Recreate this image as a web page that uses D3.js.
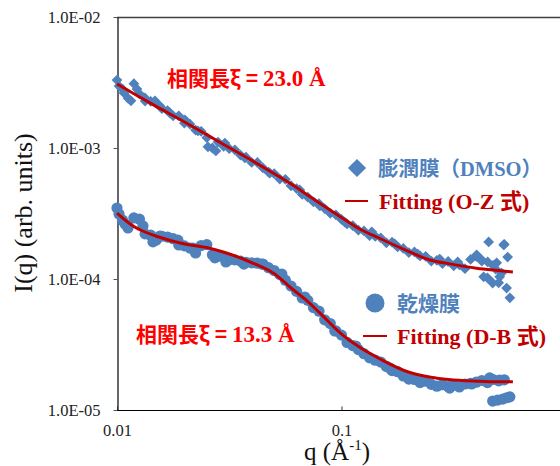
<!DOCTYPE html>
<html><head><meta charset="utf-8">
<script src="https://cdn.jsdelivr.net/npm/d3@7"></script>
<style>
html,body{margin:0;padding:0;background:#fff;}
svg{display:block;}
</style></head>
<body>
<svg id="chart" width="560" height="466"></svg>
<script>
// ---------------- DATA ----------------
// 膨潤膜 (DMSO) scattering data
const dmsoQ = [0.0100,0.01059,0.01122,0.01189,0.01259,0.01334,0.01413,0.01496,0.01585,0.01679,
0.01778,0.01884,0.01995,0.02113,0.02239,0.02371,0.02512,0.02661,0.02818,0.02985,
0.03162,0.03350,0.03548,0.03758,0.03981,0.04217,0.04467,0.04732,0.05012,0.05309,
0.05623,0.05957,0.06310,0.06683,0.07079,0.07499,0.07943,0.08414,0.08913,0.09441,
0.1000,0.1059,0.1122,0.1189,0.1259,0.1334,0.1413,0.1496,0.1585,0.1679,
0.1778,0.1884,0.1995,0.2113,0.2239,0.2371,0.2512,0.2661,0.2818,0.2985,
0.3162,0.3350,0.3548,0.3758,0.3981,0.4217,0.4467,0.4732,0.5012,0.5309,
0.5623,
0.01021,0.01074,0.01154,0.01227,0.01332,0.01476,0.01554,0.01722,0.02007,0.02294,
0.02541,0.02757,0.03024,0.03712,0.04797,0.06522,0.08006,0.1034,0.1364,0.1727,
0.2186,0.2738,0.3293,0.400,0.4298,0.4524,0.4478,0.4713,0.4860,0.5169,
0.5277,0.5439,0.5496,0.4211,0.4911,0.5064];
const dmsoI = [3.30e-3,2.81e-3,2.39e-3,3.10e-3,2.59e-3,2.28e-3,2.27e-3,2.19e-3,2.00e-3,1.93e-3,
1.76e-3,1.76e-3,1.55e-3,1.52e-3,1.37e-3,1.34e-3,1.20e-3,1.00e-3,1.11e-3,1.03e-3,
9.88e-4,9.69e-4,8.84e-4,8.51e-4,7.76e-4,7.75e-4,7.05e-4,6.54e-4,6.38e-4,5.80e-4,
5.77e-4,5.15e-4,4.90e-4,4.42e-4,4.21e-4,3.88e-4,3.76e-4,3.45e-4,3.17e-4,3.09e-4,
2.85e-4,2.63e-4,2.56e-4,2.36e-4,2.33e-4,2.14e-4,2.12e-4,2.06e-4,1.89e-4,1.91e-4,
1.76e-4,1.71e-4,1.59e-4,1.61e-4,1.50e-4,1.49e-4,1.37e-4,1.39e-4,1.31e-4,1.36e-4,
1.26e-4,1.28e-4,1.20e-4,1.41e-4,1.49e-4,1.37e-4,1.02e-4,1.27e-4,9.35e-5,1.84e-4,
7.19e-5,
2.97e-3,2.63e-3,2.29e-3,2.82e-3,2.41e-3,2.29e-3,2.09e-3,1.85e-3,1.64e-3,1.35e-3,
1.02e-3,9.49e-4,1.09e-3,8.39e-4,6.44e-4,4.78e-4,3.61e-4,2.72e-4,2.29e-4,1.85e-4,
1.55e-4,1.42e-4,1.35e-4,1.53e-4,1.04e-4,1.92e-4,1.35e-4,9.32e-5,1.19e-4,1.11e-4,
1.82e-4,8.53e-5,1.47e-4,1.40e-4,1.33e-4,1.04e-4];

// 乾燥膜 scattering data
const dryQ = [0.0100,0.01059,0.01122,0.01189,0.01259,0.01334,0.01413,0.01496,0.01585,0.01679,
0.01778,0.01884,0.01995,0.02113,0.02239,0.02371,0.02512,0.02661,0.02818,0.02985,
0.03162,0.03350,0.03548,0.03758,0.03981,0.04217,0.04467,0.04732,0.05012,0.05309,
0.05623,0.05957,0.06310,0.06683,0.07079,0.07499,0.07943,0.08414,0.08913,0.09441,
0.1000,0.1059,0.1122,0.1189,0.1259,0.1334,0.1413,0.1496,0.1585,0.1679,
0.1778,0.1884,0.1995,0.2113,0.2239,0.2371,0.2512,0.2661,0.2818,0.2985,
0.3162,0.3350,0.3548,0.3758,0.3981,0.4217,0.4467,0.4732,0.5012,0.5309,
0.5623,
0.01021,0.01086,0.01119,0.01305,0.01446,0.01554,0.01868,0.02179,0.02730,0.03055,
0.03674,0.04418,0.05424,0.06866,0.09337,0.1158,0.1640,0.2231,0.3034,0.3801,
0.4571,0.5064,0.4713,0.4962,0.5223,0.5439];
const dryI = [3.48e-4,2.81e-4,2.53e-4,2.93e-4,2.86e-4,2.21e-4,2.16e-4,1.98e-4,2.12e-4,2.09e-4,
2.03e-4,1.82e-4,1.79e-4,1.72e-4,1.58e-4,1.80e-4,1.83e-4,1.53e-4,1.49e-4,1.47e-4,
1.40e-4,1.40e-4,1.37e-4,1.34e-4,1.33e-4,1.32e-4,1.30e-4,1.22e-4,1.16e-4,1.08e-4,
9.79e-5,8.84e-5,8.04e-5,7.17e-5,6.87e-5,6.05e-5,5.68e-5,4.88e-5,4.57e-5,4.02e-5,
3.73e-5,3.28e-5,3.10e-5,2.89e-5,2.69e-5,2.50e-5,2.40e-5,2.32e-5,2.15e-5,2.00e-5,
1.96e-5,1.82e-5,1.72e-5,1.71e-5,1.62e-5,1.66e-5,1.57e-5,1.52e-5,1.56e-5,1.51e-5,
1.55e-5,1.50e-5,1.58e-5,1.60e-5,1.63e-5,1.68e-5,1.62e-5,1.71e-5,1.67e-5,1.70e-5,
1.26e-5,
3.13e-4,2.63e-4,2.45e-4,2.54e-4,1.92e-4,2.13e-4,1.98e-4,1.72e-4,1.45e-4,1.35e-4,
1.30e-4,1.30e-4,1.09e-4,7.29e-5,4.01e-5,3.08e-5,2.09e-5,1.69e-5,1.47e-5,1.58e-5,
1.76e-5,1.69e-5,1.17e-5,1.19e-5,1.21e-5,1.24e-5];

// Fitting curves
const fitQ  = [0.01,0.012,0.015,0.02,0.025,0.03,0.04,0.05,0.06,0.07,0.08,0.1,0.12,0.15,0.2,0.25,0.3,0.4,0.5,0.58];
const fitOZ = [3.08e-3,2.57e-3,2.07e-3,1.58e-3,1.27e-3,1.06e-3,8.01e-4,6.39e-4,5.28e-4,4.42e-4,3.79e-4,2.95e-4,2.42e-4,2.02e-4,1.62e-4,1.39e-4,1.31e-4,1.21e-4,1.16e-4,1.13e-4];
const fitDB = [3.19e-4,2.49e-4,2.12e-4,1.85e-4,1.74e-4,1.60e-4,1.33e-4,1.10e-4,8.46e-5,6.85e-5,5.51e-5,3.80e-5,3.02e-5,2.43e-5,1.94e-5,1.78e-5,1.71e-5,1.66e-5,1.64e-5,1.64e-5];

// Axis ticks
const yTickValues = [1e-2,1e-3,1e-4,1e-5];
const yTickLabels = ["1.0E-02","1.0E-03","1.0E-04","1.0E-05"];
const xTickValues = [0.01,0.1];
const xTickLabels = ["0.01","0.1"];

// Texts
const legendTexts = ["膨潤膜（DMSO）","Fitting (O-Z 式)","乾燥膜","Fitting (D-B 式)"];
const annot1 = ["相関長ξ = ","23.0 Å"];
const annot2 = ["相関長ξ = ","13.3 Å"];

// ---------------- DRAW ----------------
const BLUE = "#4F81BD", DARKRED = "#C00000", RED = "#FF0000";
const SERIF = "'Liberation Serif','Times New Roman','Noto Sans CJK JP',serif";
const CJK = "'Noto Sans CJK JP','Liberation Sans',sans-serif";

const svg = d3.select("#chart");
const x = d3.scaleLog().domain([0.01, 1]).range([117, 566]);
const y = d3.scaleLog().domain([1e-5, 1e-2]).range([410, 17]);

// frame line at top
svg.append("line").attr("x1",117).attr("x2",560).attr("y1",17.5).attr("y2",17.5)
  .attr("stroke","#404040").attr("stroke-width",1.3);

// axes
const yAxis = d3.axisLeft(y).tickValues(yTickValues)
  .tickFormat((d,i)=>yTickLabels[i]).tickSizeInner(4).tickSizeOuter(0).tickPadding(13);
const gy = svg.append("g").attr("transform","translate(117.5,0)").call(yAxis);
gy.select(".domain").attr("stroke","#000").attr("stroke-width",1.2);
gy.selectAll(".tick line").attr("stroke","#555");
gy.selectAll(".tick text").attr("font-family",SERIF).attr("font-size",16.5).attr("fill","#222");

const xAxis = d3.axisBottom(x).tickValues(xTickValues)
  .tickFormat((d,i)=>xTickLabels[i]).tickSizeInner(-4).tickSizeOuter(0).tickPadding(14);
const gx = svg.append("g").attr("transform","translate(0,410.5)").call(xAxis);
gx.select(".domain").attr("stroke","#000").attr("stroke-width",1.2).attr("d","M117,0H560");
gx.selectAll(".tick line").attr("stroke","#333");
gx.selectAll(".tick text").attr("font-family",SERIF).attr("font-size",16.5).attr("fill","#222");

// axis titles
svg.append("text").attr("x",337).attr("y",460).attr("text-anchor","middle")
  .attr("font-family",SERIF).attr("font-size",25).attr("fill","#111")
  .html('q (Å<tspan dy="-10" font-size="15">-1</tspan><tspan dy="10">)</tspan>');
svg.append("text").attr("transform","translate(32,213) rotate(-90)").attr("text-anchor","middle")
  .attr("font-family",SERIF).attr("font-size",26).attr("fill","#111")
  .text("I(q) (arb. units)");

// scatter
const dmso = dmsoQ.map((q,i)=>({q, I: dmsoI[i]}));
const dry = dryQ.map((q,i)=>({q, I: dryI[i]}));
const diamond = d3.symbol().type(d3.symbolSquare).size(58);
svg.append("g").selectAll("path").data(dmso).join("path")
  .attr("d", diamond)
  .attr("transform", d=>`translate(${x(d.q)},${y(d.I)}) rotate(45)`)
  .attr("fill", BLUE);

svg.append("g").selectAll("circle").data(dry).join("circle")
  .attr("cx", d=>x(d.q)).attr("cy", d=>y(d.I)).attr("r", 5.6)
  .attr("fill", BLUE);

// fit lines
const line = d3.line().x(d=>x(d.q)).y(d=>y(d.I)).curve(d3.curveMonotoneX);
svg.append("path").datum(fitQ.map((q,i)=>({q, I: fitOZ[i]})))
  .attr("d", line).attr("fill","none").attr("stroke",DARKRED).attr("stroke-width",3);
svg.append("path").datum(fitQ.map((q,i)=>({q, I: fitDB[i]})))
  .attr("d", line).attr("fill","none").attr("stroke",DARKRED).attr("stroke-width",3);

// legend
const lg = svg.append("g");
lg.append("path").attr("d", d3.symbol().type(d3.symbolSquare).size(165))
  .attr("transform","translate(357,168) rotate(45)").attr("fill",BLUE);
lg.append("text").attr("x",378).attr("y",176).attr("font-family",SERIF).attr("font-weight","bold")
  .attr("font-size",20.5).attr("fill",BLUE).text(legendTexts[0]);
lg.append("line").attr("x1",345).attr("x2",368).attr("y1",201).attr("y2",201)
  .attr("stroke",DARKRED).attr("stroke-width",2);
lg.append("text").attr("x",379).attr("y",209).attr("font-family",SERIF).attr("font-weight","bold")
  .attr("font-size",22).attr("fill",DARKRED).text(legendTexts[1]);
lg.append("circle").attr("cx",375).attr("cy",303).attr("r",9.5).attr("fill",BLUE);
lg.append("text").attr("x",397).attr("y",311).attr("font-family",SERIF).attr("font-weight","bold")
  .attr("font-size",21).attr("fill",BLUE).text(legendTexts[2]);
lg.append("line").attr("x1",363).attr("x2",387).attr("y1",336).attr("y2",336)
  .attr("stroke",DARKRED).attr("stroke-width",2);
lg.append("text").attr("x",397).attr("y",344).attr("font-family",SERIF).attr("font-weight","bold")
  .attr("font-size",22).attr("fill",DARKRED).text(legendTexts[3]);

// annotations
function annot(ax, ay, parts){
  const t = svg.append("text").attr("x",ax).attr("y",ay).attr("font-weight","bold").attr("fill",RED);
  t.append("tspan").attr("font-family",CJK).attr("font-size",21).text(parts[0]);
  t.append("tspan").attr("font-family",SERIF).attr("font-size",23).text(parts[1]);
}
annot(167, 86, annot1);
annot(136, 342, annot2);
</script>
</body></html>
